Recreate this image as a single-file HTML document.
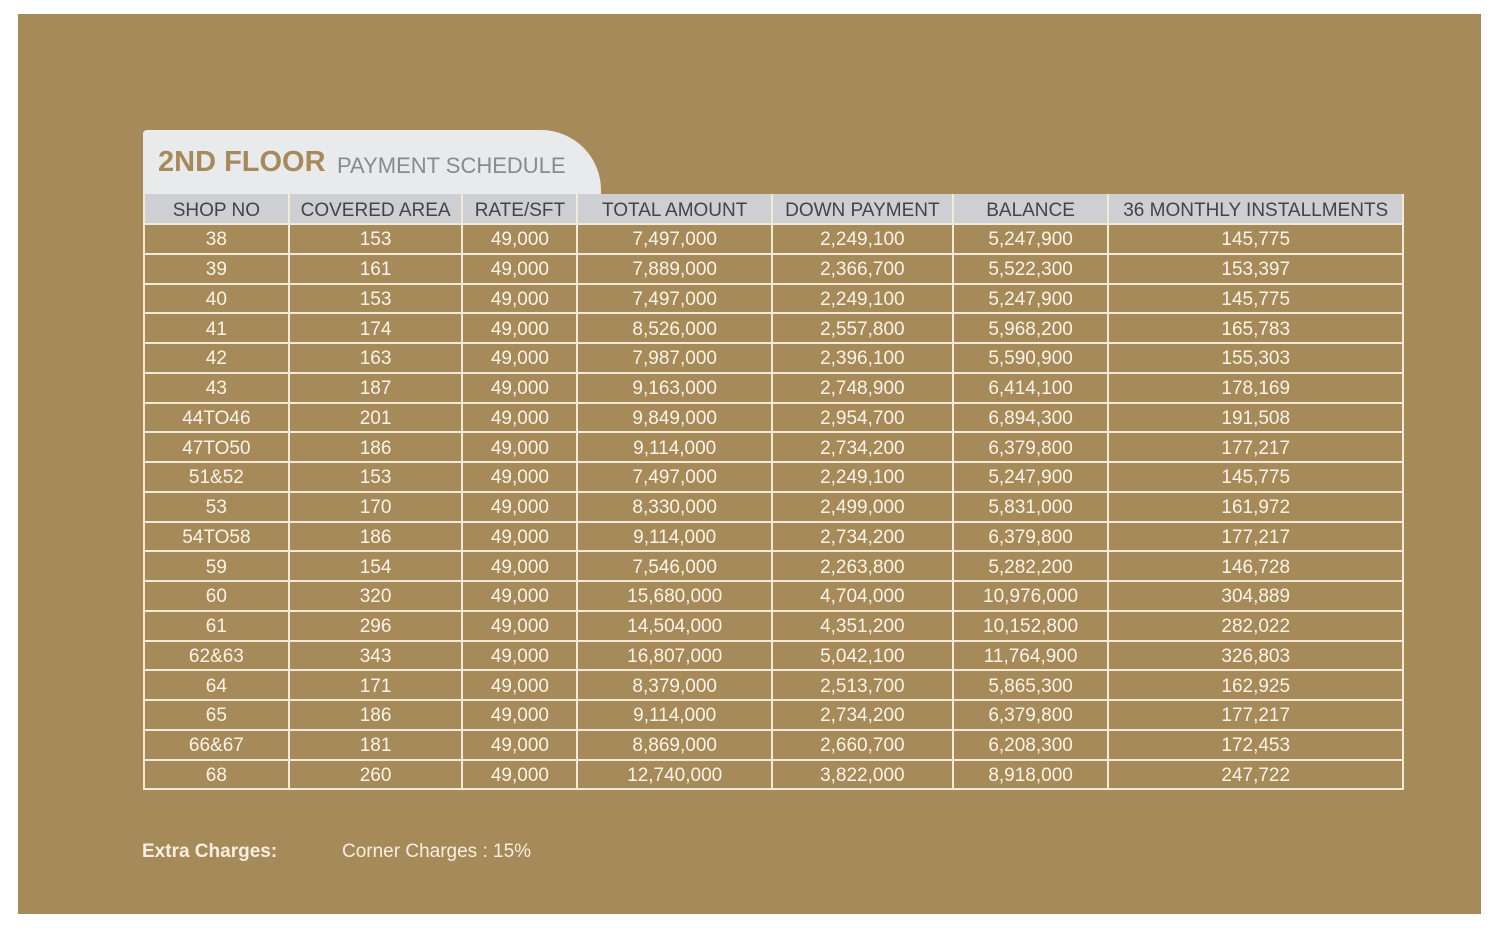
<!DOCTYPE html>
<html><head><meta charset="utf-8"><style>
*{margin:0;padding:0;box-sizing:border-box}
body{width:1500px;height:929px;background:#fff;position:relative;overflow:hidden;font-family:"Liberation Sans",sans-serif}
#panel{position:absolute;left:18px;top:14px;width:1463px;height:900px;background:#a68a5a}
#tab{position:absolute;left:143px;top:130px;width:458px;height:66px;background:#e9eaec;border-top-right-radius:60px 60px;border-top-left-radius:4px}
#tab span.b{position:absolute;left:15px;top:16px;font-weight:bold;font-size:29px;color:#a68a5a}
#tab span.l{position:absolute;left:194px;top:23px;font-size:22px;color:#8a8a8a}
table{position:absolute;left:143px;top:194px;border-collapse:collapse;width:1261px}
td,th{border:2px solid #f2e9d6;text-align:center;height:29.75px;padding:3px 0 0 0;font-size:19px;color:#fbf4e6;font-weight:normal}
th{background:#cdcfd3;color:#444;font-size:19px;border-top:none;height:30px;padding-top:4px}
.x{position:absolute;top:841px;font-size:19px;color:#f6efe0}
</style></head><body>
<div id="panel"></div>
<div id="tab"><span class="b">2ND FLOOR</span><span class="l">PAYMENT SCHEDULE</span></div>
<table>
<colgroup><col style="width:145px"><col style="width:174px"><col style="width:115px"><col style="width:195px"><col style="width:181px"><col style="width:156px"><col style="width:295px"></colgroup>
<tr><th>SHOP NO</th><th>COVERED AREA</th><th>RATE/SFT</th><th>TOTAL AMOUNT</th><th>DOWN PAYMENT</th><th>BALANCE</th><th>36 MONTHLY INSTALLMENTS</th></tr>
<tr><td>38</td><td>153</td><td>49,000</td><td>7,497,000</td><td>2,249,100</td><td>5,247,900</td><td>145,775</td></tr>
<tr><td>39</td><td>161</td><td>49,000</td><td>7,889,000</td><td>2,366,700</td><td>5,522,300</td><td>153,397</td></tr>
<tr><td>40</td><td>153</td><td>49,000</td><td>7,497,000</td><td>2,249,100</td><td>5,247,900</td><td>145,775</td></tr>
<tr><td>41</td><td>174</td><td>49,000</td><td>8,526,000</td><td>2,557,800</td><td>5,968,200</td><td>165,783</td></tr>
<tr><td>42</td><td>163</td><td>49,000</td><td>7,987,000</td><td>2,396,100</td><td>5,590,900</td><td>155,303</td></tr>
<tr><td>43</td><td>187</td><td>49,000</td><td>9,163,000</td><td>2,748,900</td><td>6,414,100</td><td>178,169</td></tr>
<tr><td>44TO46</td><td>201</td><td>49,000</td><td>9,849,000</td><td>2,954,700</td><td>6,894,300</td><td>191,508</td></tr>
<tr><td>47TO50</td><td>186</td><td>49,000</td><td>9,114,000</td><td>2,734,200</td><td>6,379,800</td><td>177,217</td></tr>
<tr><td>51&amp;52</td><td>153</td><td>49,000</td><td>7,497,000</td><td>2,249,100</td><td>5,247,900</td><td>145,775</td></tr>
<tr><td>53</td><td>170</td><td>49,000</td><td>8,330,000</td><td>2,499,000</td><td>5,831,000</td><td>161,972</td></tr>
<tr><td>54TO58</td><td>186</td><td>49,000</td><td>9,114,000</td><td>2,734,200</td><td>6,379,800</td><td>177,217</td></tr>
<tr><td>59</td><td>154</td><td>49,000</td><td>7,546,000</td><td>2,263,800</td><td>5,282,200</td><td>146,728</td></tr>
<tr><td>60</td><td>320</td><td>49,000</td><td>15,680,000</td><td>4,704,000</td><td>10,976,000</td><td>304,889</td></tr>
<tr><td>61</td><td>296</td><td>49,000</td><td>14,504,000</td><td>4,351,200</td><td>10,152,800</td><td>282,022</td></tr>
<tr><td>62&amp;63</td><td>343</td><td>49,000</td><td>16,807,000</td><td>5,042,100</td><td>11,764,900</td><td>326,803</td></tr>
<tr><td>64</td><td>171</td><td>49,000</td><td>8,379,000</td><td>2,513,700</td><td>5,865,300</td><td>162,925</td></tr>
<tr><td>65</td><td>186</td><td>49,000</td><td>9,114,000</td><td>2,734,200</td><td>6,379,800</td><td>177,217</td></tr>
<tr><td>66&amp;67</td><td>181</td><td>49,000</td><td>8,869,000</td><td>2,660,700</td><td>6,208,300</td><td>172,453</td></tr>
<tr><td>68</td><td>260</td><td>49,000</td><td>12,740,000</td><td>3,822,000</td><td>8,918,000</td><td>247,722</td></tr>
</table>
<div class="x" style="left:142px;font-weight:bold">Extra Charges:</div>
<div class="x" style="left:342px">Corner Charges : 15%</div>
</body></html>
